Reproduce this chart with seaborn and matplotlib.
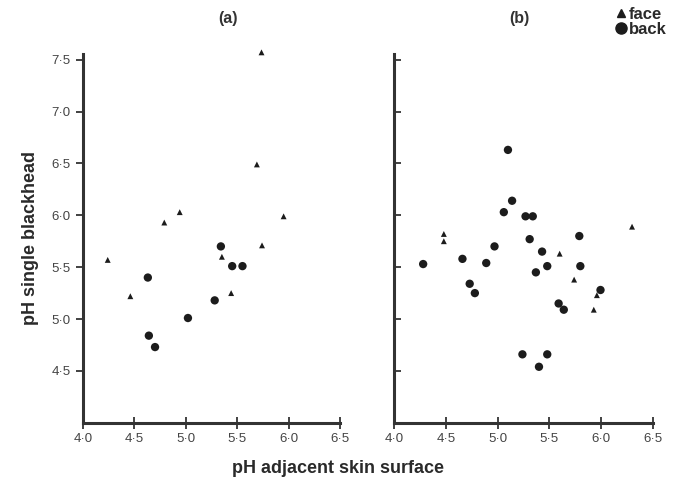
import pandas as pd
import numpy as np
import matplotlib
matplotlib.use('Agg')
import matplotlib.pyplot as plt
import seaborn as sns
from matplotlib.lines import Line2D

# Panel (a): face and back readings
a_face_skin = [4.24, 4.46, 4.79, 4.94, 5.35, 5.44, 5.69, 5.735, 5.74, 5.95]
a_face_head = [5.57, 5.22, 5.93, 6.03, 5.60, 5.25, 6.49, 7.57, 5.71, 5.99]
a_back_skin = [4.63, 4.64, 4.70, 5.02, 5.28, 5.34, 5.45, 5.55]
a_back_head = [5.40, 4.84, 4.73, 5.01, 5.18, 5.70, 5.51, 5.51]

# Panel (b)
b_face_skin = [4.48, 4.48, 5.60, 5.74, 5.96, 5.93, 6.30]
b_face_head = [5.82, 5.75, 5.63, 5.38, 5.23, 5.09, 5.89]
b_back_skin = [4.28, 4.66, 4.73, 4.78, 4.89, 4.97, 5.06, 5.10, 5.14, 5.27, 5.34, 5.31,
               5.43, 5.37, 5.48, 5.80, 5.79, 5.995, 5.59, 5.64, 5.24, 5.48, 5.40]
b_back_head = [5.53, 5.58, 5.34, 5.25, 5.54, 5.70, 6.03, 6.63, 6.14, 5.99, 5.99, 5.77,
               5.65, 5.45, 5.51, 5.51, 5.80, 5.28, 5.15, 5.09, 4.66, 4.66, 4.54]

x_ticks = [4.0, 4.5, 5.0, 5.5, 6.0, 6.5]
y_ticks = [4.5, 5.0, 5.5, 6.0, 6.5, 7.0, 7.5]


def make_df(fs, fh, bs, bh):
    return pd.DataFrame({
        'skin': fs + bs,
        'head': fh + bh,
        'site': ['face'] * len(fs) + ['back'] * len(bs),
    })


df_a = make_df(a_face_skin, a_face_head, a_back_skin, a_back_head)
df_b = make_df(b_face_skin, b_face_head, b_back_skin, b_back_head)

sns.set_style('white')
plt.rcParams['font.family'] = ['Liberation Sans', 'DejaVu Sans']

ink = '#1c1c1c'
fig = plt.figure(figsize=(6.75, 4.86), dpi=100)
ax_a = fig.add_axes([0.123, 0.130, 0.381, 0.758])
ax_b = fig.add_axes([0.584, 0.130, 0.383, 0.758])

marker_map = {'face': '^', 'back': 'o'}
size_map = {'face': 18, 'back': 36}


def dot_label(v):
    return f'{v:.1f}'.replace('.', '\u00b7')


for ax, df in [(ax_a, df_a), (ax_b, df_b)]:
    for site in ['face', 'back']:
        sub = df[df['site'] == site]
        sns.scatterplot(data=sub, x='skin', y='head', ax=ax, marker=marker_map[site],
                        s=size_map[site], color=ink, edgecolor='none', legend=False,
                        clip_on=False)
    ax.set_xlim(4.0, 6.5)
    ax.set_ylim(4.0, 7.55)
    ax.set_xticks(x_ticks)
    ax.set_xticklabels([dot_label(t) for t in x_ticks])
    ax.set_yticks(y_ticks)
    ax.set_xlabel('')
    ax.set_ylabel('')
    for side in ['top', 'right']:
        ax.spines[side].set_visible(False)
    for side in ['left', 'bottom']:
        ax.spines[side].set_linewidth(2.2)
        ax.spines[side].set_color('#333333')
    ax.tick_params(axis='x', bottom=True, direction='inout', length=9, width=1.3,
                   colors='#333333', labelsize=9.5, labelcolor='#444444', pad=3)
    ax.patch.set_alpha(0)

ax_a.set_yticklabels([dot_label(t) for t in y_ticks])
ax_a.tick_params(axis='y', left=True, direction='out', length=5, width=1.3, colors='#333333',
                 labelsize=9.5, labelcolor='#444444', pad=4)
ax_b.set_yticklabels([])
ax_b.tick_params(axis='y', left=True, direction='in', length=5, width=1.3, colors='#333333')

fig.text(0.338, 0.962, '(a)', ha='center', va='center', fontsize=11.5, fontweight='bold',
         color='#333333')
fig.text(0.770, 0.962, '(b)', ha='center', va='center', fontsize=11.5, fontweight='bold',
         color='#333333')
fig.text(0.50, 0.035, 'pH adjacent skin surface', ha='center', va='center', fontsize=13,
         fontweight='bold', color='#2a2a2a')
fig.text(0.045, 0.51, 'pH single blackhead', ha='center', va='center', rotation=90,
         fontsize=13, fontweight='bold', color='#2a2a2a')

handles = [
    Line2D([], [], marker='^', linestyle='none', color=ink, markersize=6, label='face'),
    Line2D([], [], marker='o', linestyle='none', color=ink, markersize=8, label='back'),
]
leg = fig.legend(handles=handles, loc='upper right', bbox_to_anchor=(1.005, 1.01),
                 frameon=False, handletextpad=0.1, labelspacing=0.0, handlelength=0.8,
                 borderpad=0.2, prop={'weight': 'bold', 'size': 12})
for t in leg.get_texts():
    t.set_color('#2a2a2a')

fig.savefig('out.png', dpi=100)
